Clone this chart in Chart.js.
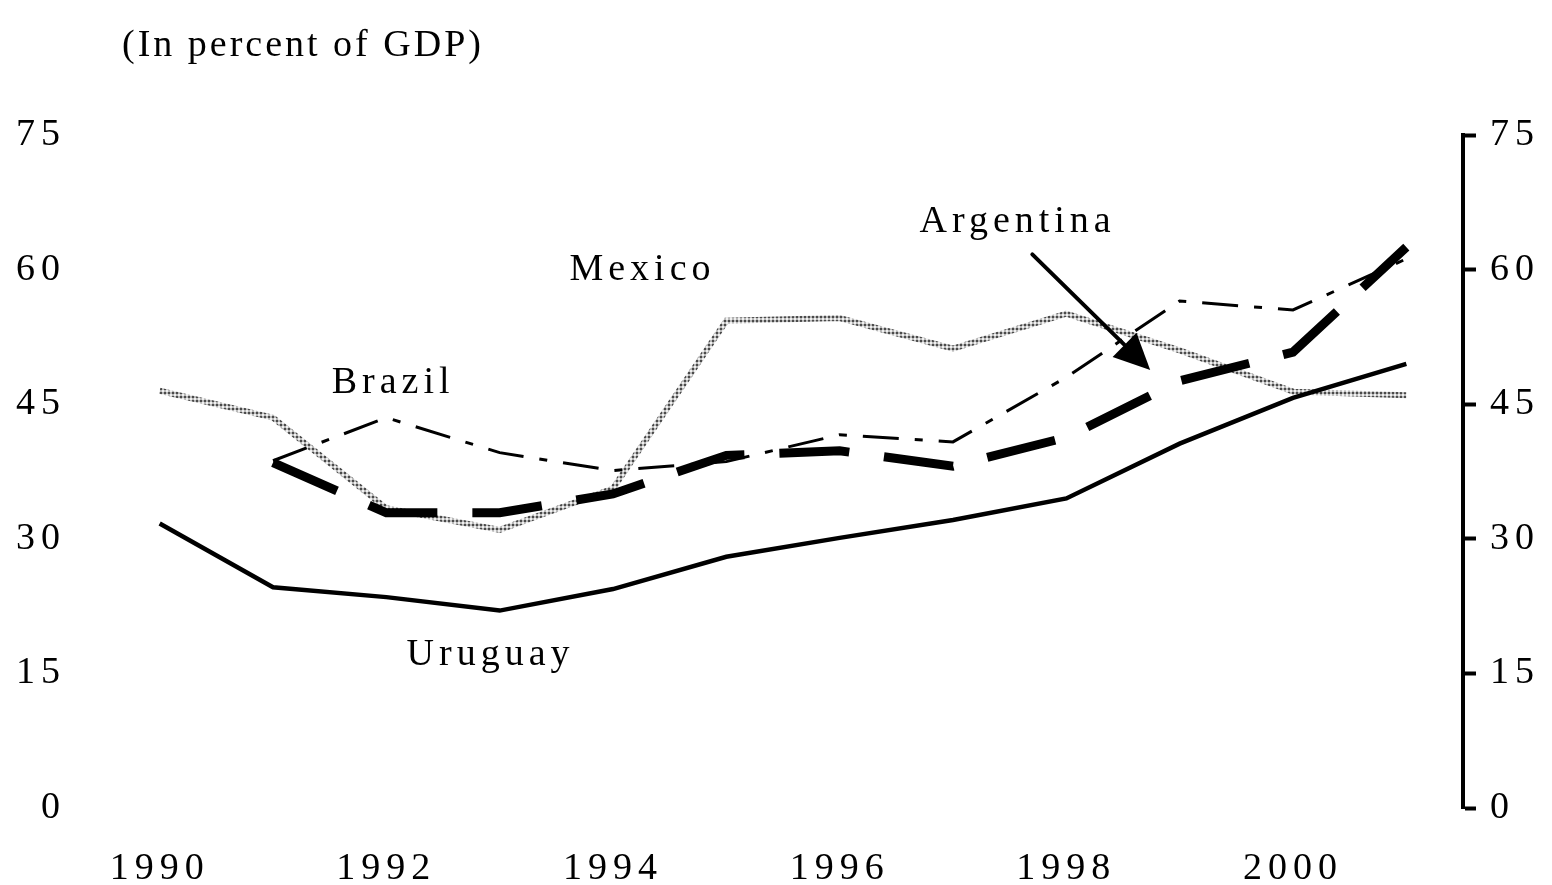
<!DOCTYPE html>
<html>
<head>
<meta charset="utf-8">
<script src="https://cdn.jsdelivr.net/npm/chart.js@4.4.0/dist/chart.umd.min.js"></script>
<style>
  html, body { margin: 0; padding: 0; background: #fff; }
  #wrap { width: 1552px; height: 885px; position: relative; }
</style>
</head>
<body>
<div id="wrap"><canvas id="myChart" width="1552" height="885"></canvas></div>
<script>
// donnees
const years = [1990, 1991, 1992, 1993, 1994, 1995, 1996, 1997, 1998, 1999, 2000, 2001];
const uruguay   = [31.7, 24.6, 23.5, 22.0, 24.4, 28.0, 30.1, 32.1, 34.5, 40.6, 45.7, 49.5];
const mexico    = [46.5, 43.5, 33.4, 31.0, 35.6, 54.3, 54.6, 51.2, 55.1, 51.0, 46.4, 46.0];
const brazil    = [null, 38.7, 43.5, 39.6, 37.6, 38.6, 41.6, 40.8, 48.0, 56.5, 55.5, 61.2];
const argentina = [null, 38.5, 32.9, 32.9, 35.0, 39.3, 39.8, 38.1, 41.3, 47.6, 50.8, 62.5];
const xTicks = [1990, 1992, 1994, 1996, 1998, 2000];
const yTicks = [0, 15, 30, 45, 60, 75];

// etiquettes (en coordonnees du graphique)
const labels = [
  { text: "Mexico",    x: 1994.26, y: 60.0 },
  { text: "Brazil",    x: 1992.06, y: 47.4 },
  { text: "Uruguay",   x: 1992.92, y: 17.0 },
  { text: "Argentina", x: 1997.57, y: 65.3 }
];
const arrowFrom = { x: 1997.70, y: 61.7 };
const arrowTo   = { x: 1998.74, y: 48.8 };

const FAMILY = '"Liberation Serif", "Times New Roman", serif';
const FONT = '38px ' + FAMILY;

// motif gris pour le Mexique
function makePattern() {
  let c = document.createElement("canvas");
  c.width = 4; c.height = 4;
  let g = c.getContext("2d");
  g.fillStyle = "#b8b8b8";
  g.fillRect(0, 0, 4, 4);
  g.fillStyle = "#4a4a4a";
  g.fillRect(0, 0, 2, 2);
  g.fillStyle = "#f0f0f0";
  g.fillRect(2, 2, 2, 2);
  return document.getElementById("myChart").getContext("2d").createPattern(c, "repeat");
}

function toPoints(values) {
  let out = [];
  for (let i = 0; i < years.length; i++) {
    if (values[i] != null) out.push({ x: years[i], y: values[i] });
  }
  return out;
}

const spacingPlugin = {
  id: "spacing",
  beforeDraw(chart) { chart.ctx.letterSpacing = "6px"; }
};

const annotPlugin = {
  id: "annot",
  afterDraw(chart) {
    const ctx = chart.ctx;
    const xs = chart.scales.x, ys = chart.scales.y;
    ctx.save();
    ctx.letterSpacing = "5px";
    ctx.fillStyle = "#000";
    ctx.font = FONT;
    ctx.textAlign = "center";
    ctx.textBaseline = "middle";
    labels.forEach(l => {
      ctx.fillText(l.text, xs.getPixelForValue(l.x), ys.getPixelForValue(l.y));
    });
    // titre
    ctx.letterSpacing = "3px";
    ctx.textAlign = "left";
    ctx.fillText("(In percent of GDP)", 122, 46);

    // fleche Argentina
    let x1 = xs.getPixelForValue(arrowFrom.x), y1 = ys.getPixelForValue(arrowFrom.y);
    let x2 = xs.getPixelForValue(arrowTo.x), y2 = ys.getPixelForValue(arrowTo.y);
    let ang = Math.atan2(y2 - y1, x2 - x1);
    let hl = 36, hw = 17;
    let bx = x2 - hl * Math.cos(ang), by = y2 - hl * Math.sin(ang);
    ctx.strokeStyle = "#000";
    ctx.lineWidth = 4;
    ctx.lineCap = "round";
    ctx.beginPath();
    ctx.moveTo(x1, y1);
    ctx.lineTo(bx, by);
    ctx.stroke();
    ctx.beginPath();
    ctx.moveTo(x2, y2);
    ctx.lineTo(bx + hw * Math.sin(ang), by - hw * Math.cos(ang));
    ctx.lineTo(bx - hw * Math.sin(ang), by + hw * Math.cos(ang));
    ctx.closePath();
    ctx.fill();
    ctx.restore();
  }
};

const tickFont = { family: FAMILY, size: 38 };

const config = {
  type: "line",
  data: {
    datasets: [
      {
        label: "Uruguay",
        data: toPoints(uruguay),
        borderColor: "#000",
        borderWidth: 4.5,
        pointRadius: 0,
        tension: 0,
        order: 1
      },
      {
        label: "Argentina",
        data: toPoints(argentina),
        borderColor: "#000",
        borderWidth: 9,
        borderDash: [70, 35],
        borderCapStyle: "butt",
        pointRadius: 0,
        tension: 0,
        order: 2
      },
      {
        label: "Brazil",
        data: toPoints(brazil),
        borderColor: "#000",
        borderWidth: 3,
        borderDash: [36, 16, 8, 16],
        pointRadius: 0,
        tension: 0,
        order: 3
      },
      {
        label: "Mexico",
        data: toPoints(mexico),
        borderColor: makePattern(),
        borderWidth: 6,
        pointRadius: 0,
        tension: 0,
        order: 4
      }
    ]
  },
  options: {
    responsive: false,
    animation: false,
    layout: { padding: { top: 135, left: 0, right: 0, bottom: 0 } },
    plugins: {
      legend: { display: false },
      tooltip: { enabled: false }
    },
    scales: {
      x: {
        type: "linear",
        min: 1989.5,
        max: 2001.5,
        afterBuildTicks: s => { s.ticks = xTicks.map(v => ({ value: v })); },
        afterFit: s => { s.height = 77; },
        grid: { display: false, drawTicks: false },
        border: { display: false },
        ticks: {
          color: "#000",
          font: tickFont,
          padding: 38,
          maxRotation: 0,
          autoSkip: false,
          callback: v => String(v)
        }
      },
      y: {
        position: "left",
        min: 0,
        max: 75,
        afterBuildTicks: s => { s.ticks = yTicks.map(v => ({ value: v })); },
        afterFit: s => { s.width = 103; },
        grid: { display: false, drawTicks: false },
        border: { display: false },
        ticks: {
          color: "#000",
          font: tickFont,
          padding: 37
        }
      },
      y2: {
        position: "right",
        min: 0,
        max: 75,
        afterBuildTicks: s => { s.ticks = yTicks.map(v => ({ value: v })); },
        afterFit: s => { s.width = 89; },
        grid: { drawOnChartArea: false, color: "#000", tickLength: 13, tickWidth: 4, tickColor: "#000" },
        border: { display: true, color: "#000", width: 4 },
        ticks: {
          color: "#000",
          font: tickFont,
          padding: 14
        }
      }
    }
  },
  plugins: [spacingPlugin, annotPlugin]
};

const myChart = new Chart(document.getElementById("myChart"), config);
</script>
</body>
</html>
